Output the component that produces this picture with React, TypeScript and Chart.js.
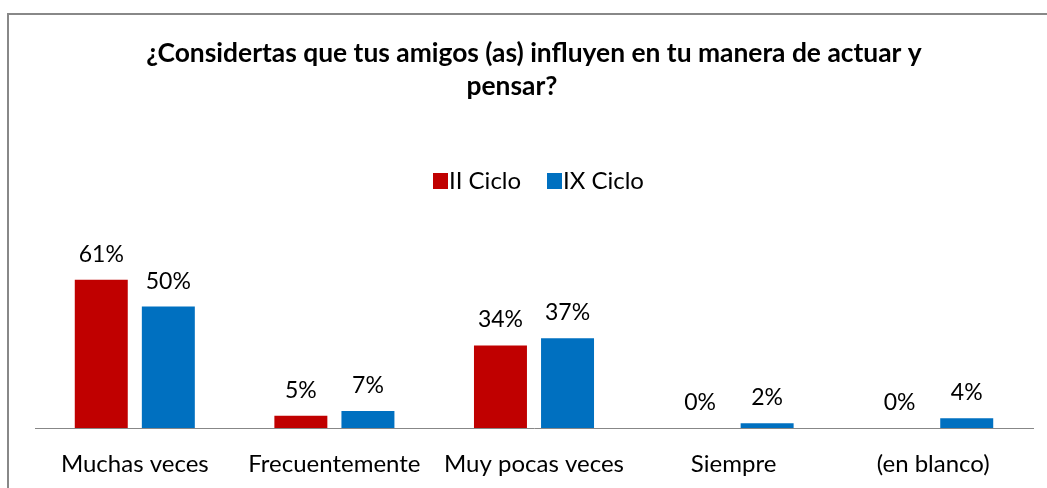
import React, { useEffect, useRef } from "react";
import { Chart, registerables } from "chart.js";

Chart.register(...registerables);

const categories = ["Muchas veces", "Frecuentemente", "Muy pocas veces", "Siempre", "(en blanco)"];
const seriesNames = ["II Ciclo", "IX Ciclo"];
const iiCiclo = [61, 5, 34, 0, 0];
const ixCiclo = [50, 7, 37, 2, 4];
const colors = ["#C00000", "#0070C0"];
const titleLines = ["¿Considertas que tus amigos (as) influyen en tu manera de actuar y", "pensar?"];

const FONT = "Lato, 'Open Sans', sans-serif";

const decorPlugin = {
  id: "decor",
  afterDraw(chart: any) {
    const ctx = chart.ctx;
    ctx.save();
    // frame
    ctx.fillStyle = "#888888";
    ctx.fillRect(7, 13, 1040, 2);
    ctx.fillRect(7, 13, 2, 475);
    // title
    ctx.fillStyle = "#000";
    ctx.font = `bold 26.4px ${FONT}`;
    ctx.textAlign = "center";
    ctx.textBaseline = "alphabetic";
    ctx.fillText(titleLines[0], 534, 62);
    ctx.fillText(titleLines[1], 512, 95);
    // legend
    ctx.font = `24px ${FONT}`;
    ctx.textAlign = "left";
    const legendX = [433, 547];
    seriesNames.forEach((n, i) => {
      ctx.fillStyle = colors[i];
      ctx.fillRect(legendX[i], 173, 15, 16);
      ctx.fillStyle = "#000";
      ctx.fillText(n, legendX[i] + 16, 189);
    });
    // data labels
    ctx.font = `23px ${FONT}`;
    ctx.textAlign = "center";
    chart.data.datasets.forEach((ds: any, di: number) => {
      const meta = chart.getDatasetMeta(di);
      meta.data.forEach((bar: any, i: number) => {
        ctx.fillStyle = "#000";
        ctx.fillText(ds.data[i] + "%", bar.x, bar.y - 18);
      });
    });
    ctx.restore();
  },
};

export default function App() {
  const ref = useRef<HTMLCanvasElement>(null);
  useEffect(() => {
    if (!ref.current) return;
    const chart = new Chart(ref.current, {
      type: "bar",
      data: {
        labels: categories,
        datasets: [
          { label: seriesNames[0], data: iiCiclo, backgroundColor: colors[0], barPercentage: 0.79, categoryPercentage: 0.672 },
          { label: seriesNames[1], data: ixCiclo, backgroundColor: colors[1], barPercentage: 0.79, categoryPercentage: 0.672 },
        ],
      },
      options: {
        animation: false,
        responsive: false,
        layout: { padding: { top: 258, left: 35, right: 14, bottom: 0 } },
        plugins: { legend: { display: false }, title: { display: false }, tooltip: { enabled: false } },
        scales: {
          y: { display: false, min: 0, max: 70 },
          x: {
            grid: { display: false },
            border: { display: true, color: "#878787", width: 1 },
            ticks: { color: "#000", font: { family: FONT, size: 24 }, padding: 14, maxRotation: 0, autoSkip: false },
            afterFit: (scale: any) => { scale.height = 60; },
          },
        },
      },
      plugins: [decorPlugin],
    });
    return () => chart.destroy();
  }, []);
  return (
    <div style={{ position: "fixed", left: 0, top: 0, width: 1047, height: 488, background: "#fff" }}>
      <canvas ref={ref} width={1047} height={488} style={{ display: "block" }} />
    </div>
  );
}
